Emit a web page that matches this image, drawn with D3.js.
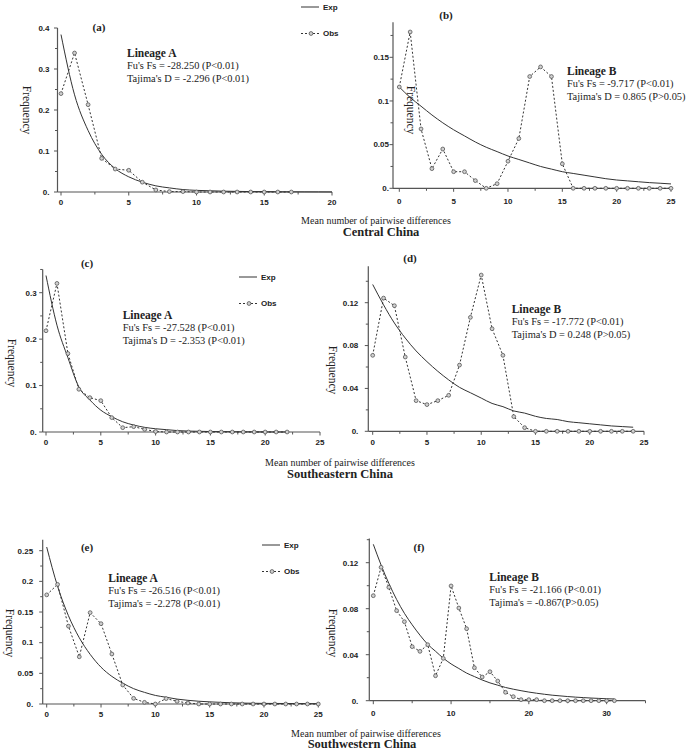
<!DOCTYPE html>
<html><head><meta charset="utf-8">
<script src="https://cdn.jsdelivr.net/npm/d3@7"></script>
<style>body{margin:0;background:#fff}</style>
</head><body>
<svg id="chart" width="691" height="755"></svg>
<script>
// ---------- data (x = mismatch count = index) ----------
const aObs = [0.240,0.339,0.213,0.082,0.056,0.053,0.024,0.005,0.001,0.001,0,0,0,0,0,0,0,0];
const aExp = [0.384,0.237,0.150,0.092,0.057,0.037,0.024,0.015,0.010,0.006,0.004,0.003,0.002,0.0015,0.001,0.001,0.0005,0.0004,0.0003,0.0002,0.0001];
const bObs = [0.116,0.179,0.068,0.0225,0.045,0.019,0.019,0.0088,0,0.0053,0.031,0.057,0.128,0.139,0.128,0.028,0,0,0,0,0,0,0,0,0,0];
const bExp = [0.116,0.104,0.094,0.084,0.075,0.067,0.060,0.053,0.047,0.042,0.037,0.033,0.029,0.025,0.022,0.019,0.017,0.015,0.013,0.011,0.0095,0.0085,0.0075,0.0065,0.0058,0.005];
const cObs = [0.218,0.320,0.169,0.092,0.074,0.0675,0.031,0.0093,0.0115,0.0057,0.001,0,0,0,0,0,0,0,0,0,0,0,0];
const cExp = [0.337,0.230,0.160,0.097,0.069,0.047,0.033,0.022,0.015,0.010,0.007,0.005,0.003,0.002,0.0015,0.001,0.0008,0.0006,0.0004,0.0003,0.0002,0.0001,0.0001];
const dObs = [0.0709,0.1243,0.1172,0.0693,0.0286,0.0249,0.0286,0.0336,0.0618,0.1063,0.1458,0.0957,0.0709,0.0137,0.0034,0,0,0,0,0,0,0,0,0,0];
const dExp = [0.137,0.118,0.101,0.087,0.075,0.065,0.056,0.048,0.041,0.036,0.031,0.026,0.023,0.019,0.017,0.014,0.012,0.011,0.009,0.008,0.007,0.006,0.005,0.0044,0.0038];
const eObs = [0.178,0.195,0.127,0.077,0.149,0.131,0.0815,0.031,0.0092,0.0027,0,0.0088,0.0044,0.0016,0,0,0,0,0,0,0,0,0,0,0,0];
const eExp = [0.256,0.192,0.144,0.108,0.081,0.060,0.045,0.034,0.025,0.019,0.014,0.011,0.008,0.006,0.0045,0.0035,0.0027,0.002,0.0015,0.0012,0.001,0.0009,0.0008,0.0007,0.0006,0.0005];
const fObs = [0.0913,0.116,0.0986,0.0783,0.0687,0.047,0.0429,0.0487,0.0217,0.0368,0.0998,0.0806,0.0626,0.0287,0.0206,0.0252,0.0171,0.0073,0.0035,0.0009,0.0009,0.0009,0,0,0,0,0,0,0,0,0,0];
const fExp = [0.136,0.118,0.102,0.088,0.076,0.066,0.057,0.049,0.043,0.037,0.032,0.028,0.024,0.021,0.018,0.0155,0.0135,0.0115,0.010,0.0087,0.0075,0.0065,0.0056,0.0048,0.0042,0.0036,0.0031,0.0027,0.0023,0.002,0.0017,0.0015];

const aYTicks = [0,0.1,0.2,0.3,0.4],  aXTicks = [0,5,10,15,20];
const bYTicks = [0,0.05,0.1,0.15],   bXTicks = [0,5,10,15,20,25];
const cYTicks = [0,0.1,0.2,0.3],     cXTicks = [0,5,10,15,20,25];
const dYTicks = [0,0.04,0.08,0.12],  dXTicks = [0,5,10,15,20,25];
const eYTicks = [0,0.05,0.1,0.15,0.2,0.25], eXTicks = [0,5,10,15,20,25];
const fYTicks = [0,0.04,0.08,0.12],  fXTicks = [0,10,20,30];

const aText = ["Lineage A","Fu's Fs = -28.250 (P<0.01)","Tajima's D = -2.296 (P<0.01)"];
const bText = ["Lineage B","Fu's Fs = -9.717 (P<0.01)","Tajima's D = 0.865 (P>0.05)"];
const cText = ["Lineage A","Fu's Fs = -27.528 (P<0.01)","Tajima's D = -2.353 (P<0.01)"];
const dText = ["Lineage B","Fu's Fs = -17.772 (P<0.01)","Tajima's D = 0.248 (P>0.05)"];
const eText = ["Lineage A","Fu's Fs = -26.516 (P<0.01)","Tajima's = -2.278 (P<0.01)"];
const fText = ["Lineage B","Fu's Fs = -21.166 (P<0.01)","Tajima's = -0.867(P>0.05)"];

const legendLabels = ["Exp","Obs"];
const xTitle = "Mean number of pairwise differences";
const regions = ["Central China","Southeastern China","Southwestern China"];

// ---------- layout ----------
const panels = [
 {tag:"(a)",obs:aObs,exp:aExp,yt:aYTicks,xt:aXTicks,txt:aText,xMax:20,xr:[61,332],axisX:57.5,yRef:0.4,yr:[192,28],yTop:0.4,gap:8,xl:10,
  tagPos:[99,27],txtPos:[127,53],freq:[27,110],legend:[301,7]},
 {tag:"(b)",obs:bObs,exp:bExp,yt:bYTicks,xt:bXTicks,txt:bText,xMax:25,xr:[399.3,671],axisX:393,yRef:0.15,yr:[188.3,57.3],yTop:0.19,gap:4,xl:13,
  tagPos:[446,15],txtPos:[567,71],freq:[411,110]},
 {tag:"(c)",obs:cObs,exp:cExp,yt:cYTicks,xt:cXTicks,txt:cText,xMax:25,xr:[46,320],axisX:42.7,yRef:0.3,yr:[432,292.7],yTop:0.35,gap:6,xl:10,
  tagPos:[87,263],txtPos:[122.7,315],freq:[12,363],legend:[239,277]},
 {tag:"(d)",obs:dObs,exp:dExp,yt:dYTicks,xt:dXTicks,txt:dText,xMax:25,xr:[372.7,644],axisX:368.3,yRef:0.12,yr:[431.3,302.7],yTop:0.154,gap:10,xl:10.5,
  tagPos:[410,258],txtPos:[511.7,309],freq:[333,370]},
 {tag:"(e)",obs:eObs,exp:eExp,yt:eYTicks,xt:eXTicks,txt:eText,xMax:25,xr:[46.7,318.3],axisX:42.7,yRef:0.25,yr:[704,550.7],yTop:0.268,gap:9.5,xl:10.5,
  tagPos:[87,547],txtPos:[108.3,578],freq:[10,633],legend:[262,545]},
 {tag:"(f)",obs:fObs,exp:fExp,yt:fYTicks,xt:fXTicks,txt:fText,xMax:35,xr:[373.3,645.5],axisX:369.3,yRef:0.12,yr:[700.7,562.7],yTop:0.141,gap:11,xl:12,
  tagPos:[419,547],txtPos:[489.3,577],freq:[333,633]}
];
const captions = [
 {t:xTitle,x:376,y:220,r:regions[0],rx:381,ry:232},
 {t:xTitle,x:340,y:462,r:regions[1],rx:340,ry:473.5},
 {t:xTitle,x:366,y:733,r:regions[2],rx:362,ry:744}
];

const svg = d3.select("#chart");
const SERIF = "'Liberation Serif','Times New Roman',serif";
const SANS = "'Liberation Sans',Arial,sans-serif";
const ink = "#333", axisCol = "#555";
const fmt = v => v===0 ? "0." : String(+v.toFixed(3));

function midTicks(t, max){
  const out=[]; const step=t[1]-t[0];
  for(let v=t[0]+step/2; v<=max+1e-9; v+=step){ if(!t.some(u=>Math.abs(u-v)<1e-9)) out.push(v); }
  return out;
}
function marker(sel){
  return sel.attr("r",1.9).attr("fill","#d0d0d0").attr("stroke","#555").attr("stroke-width",0.8);
}

panels.forEach(p=>{
  const x = d3.scaleLinear().domain([0,p.xMax]).range(p.xr);
  const y = d3.scaleLinear().domain([0,p.yRef]).range(p.yr);
  const g = svg.append("g");

  // axes
  g.append("line").attr("x1",p.axisX).attr("x2",p.axisX).attr("y1",y(0)).attr("y2",y(p.yTop))
    .attr("stroke",axisCol).attr("stroke-width",1.2);
  g.append("line").attr("x1",p.axisX).attr("x2",x(p.xMax)).attr("y1",y(0)).attr("y2",y(0))
    .attr("stroke",axisCol).attr("stroke-width",1.2);
  p.yt.forEach(v=>{
    g.append("line").attr("x1",p.axisX-3.5).attr("x2",p.axisX).attr("y1",y(v)).attr("y2",y(v)).attr("stroke",axisCol);
    g.append("text").attr("x",p.axisX-p.gap).attr("y",y(v)).attr("dy","0.35em").attr("text-anchor","end")
      .attr("font-family",SANS).attr("font-weight","bold").attr("font-size",8).attr("fill","#222").text(fmt(v));
  });
  midTicks(p.yt,p.yTop).forEach(v=>{
    g.append("line").attr("x1",p.axisX-2.5).attr("x2",p.axisX).attr("y1",y(v)).attr("y2",y(v)).attr("stroke",axisCol);
  });
  p.xt.forEach(v=>{
    g.append("line").attr("x1",x(v)).attr("x2",x(v)).attr("y1",y(0)).attr("y2",y(0)+3.5).attr("stroke",axisCol);
    g.append("text").attr("x",x(v)).attr("y",y(0)+p.xl).attr("dy","0.35em").attr("text-anchor","middle")
      .attr("font-family",SANS).attr("font-weight","bold").attr("font-size",8).attr("fill","#222").text(v);
  });
  midTicks(p.xt,p.xMax).forEach(v=>{
    g.append("line").attr("x1",x(v)).attr("x2",x(v)).attr("y1",y(0)).attr("y2",y(0)+2.5).attr("stroke",axisCol);
  });

  g.append("path").datum(p.exp)
    .attr("d",d3.line().x((d,i)=>x(i)).y(d=>y(d)).curve(d3.curveMonotoneX))
    .attr("fill","none").attr("stroke",ink).attr("stroke-width",1);
  g.append("path").datum(p.obs)
    .attr("d",d3.line().x((d,i)=>x(i)).y(d=>y(d)))
    .attr("fill","none").attr("stroke",ink).attr("stroke-width",1).attr("stroke-dasharray","2,2");
  marker(g.selectAll("circle.o").data(p.obs).join("circle").attr("class","o")
    .attr("cx",(d,i)=>x(i)).attr("cy",d=>y(d)));

  g.append("text").attr("x",p.tagPos[0]).attr("y",p.tagPos[1]).attr("dy","0.35em").attr("text-anchor","middle")
    .attr("font-family",SERIF).attr("font-weight","bold").attr("font-size",11).attr("fill","#222").text(p.tag);
  g.append("text").attr("transform",`translate(${p.freq[0]},${p.freq[1]}) rotate(90)`)
    .attr("text-anchor","middle").attr("dy","0.35em")
    .attr("font-family",SERIF).attr("font-size",11.5).attr("fill","#222").text("Frequency");
  p.txt.forEach((t,i)=>{
    g.append("text").attr("x",p.txtPos[0]).attr("y",p.txtPos[1]+i*12.5).attr("dy","0.35em")
      .attr("font-family",SERIF).attr("font-weight",i===0?"bold":"normal").attr("font-size",i===0?11.5:10.4)
      .attr("fill","#222").text(t);
  });

  if(p.legend){
    const [lx,ly]=p.legend, L=18;
    g.append("line").attr("x1",lx).attr("x2",lx+L).attr("y1",ly).attr("y2",ly).attr("stroke",ink);
    g.append("text").attr("x",lx+L+4).attr("y",ly).attr("dy","0.35em").attr("font-family",SANS)
      .attr("font-weight","bold").attr("font-size",8).attr("fill","#222").text(legendLabels[0]);
    const ly2 = ly+26.5;
    g.append("line").attr("x1",lx).attr("x2",lx+L).attr("y1",ly2).attr("y2",ly2).attr("stroke",ink).attr("stroke-dasharray","2,2");
    marker(g.append("circle").attr("cx",lx+L/2+1).attr("cy",ly2));
    g.append("text").attr("x",lx+L+4).attr("y",ly2).attr("dy","0.35em").attr("font-family",SANS)
      .attr("font-weight","bold").attr("font-size",8).attr("fill","#222").text(legendLabels[1]);
  }
});

captions.forEach(c=>{
  svg.append("text").attr("x",c.x).attr("y",c.y).attr("dy","0.35em").attr("text-anchor","middle")
    .attr("font-family",SERIF).attr("font-size",10).attr("fill","#222").text(c.t);
  svg.append("text").attr("x",c.rx).attr("y",c.ry).attr("dy","0.35em").attr("text-anchor","middle")
    .attr("font-family",SERIF).attr("font-weight","bold").attr("font-size",12.5).attr("fill","#222").text(c.r);
});
</script>
</body></html>
